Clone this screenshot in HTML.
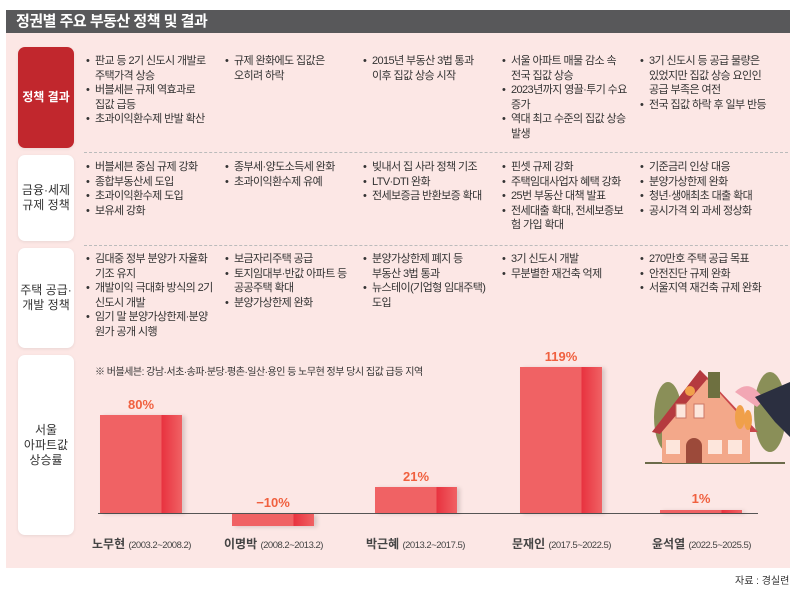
<!DOCTYPE html>
<html><head><meta charset="utf-8"><style>
*{margin:0;padding:0;box-sizing:border-box}
body{width:800px;height:590px;background:#fff;font-family:"Liberation Sans","Noto Sans CJK KR",sans-serif;position:relative;overflow:hidden;color:#333}
.title{position:absolute;left:6px;top:10px;width:784px;height:23px;background:#58585a;color:#fff;font-size:15px;font-weight:bold;padding-left:10px;line-height:23px;letter-spacing:-0.5px}
.panel{position:absolute;left:6px;top:33px;width:784px;height:535px;background:#fce7e5}
.lab{position:absolute;left:18px;width:56px;background:#fff;border-radius:7px;display:flex;align-items:center;justify-content:center;text-align:center;font-size:12px;line-height:15px;color:#333;box-shadow:0 1px 3px rgba(0,0,0,.08)}
.lab.red{background:#c1272d;color:#fff;font-weight:bold}
.dash{position:absolute;left:84px;width:704px;border-top:1px dashed #bbb}
.col{position:absolute;font-size:11px;line-height:14.5px;letter-spacing:-0.6px;color:#333;width:130px;word-break:keep-all}
.col div{padding-left:9px;text-indent:-9px}
.col div::before{content:"•";display:inline-block;width:9px;text-indent:0}
.col div.ba{word-break:break-all}
.bar{position:absolute;background:linear-gradient(to right,#f06264 0,#f06264 75%,#e8323f 75%,#f06264 100%);box-shadow:3px 1px 4px rgba(0,0,0,.15)}
.pct{position:absolute;width:82px;text-align:center;color:#f0603f;font-size:13px;font-weight:bold}
.xl{position:absolute;font-size:12px;font-weight:bold;color:#444;white-space:nowrap}
.xl span{font-size:9.5px;font-weight:normal;letter-spacing:-0.5px}
</style></head><body>
<div class="title">정권별 주요 부동산 정책 및 결과</div>
<div class="panel"></div>
<div class="lab red" style="top:47px;height:101px">정책 결과</div>
<div class="lab" style="top:155px;height:86px">금융·세제<br>규제 정책</div>
<div class="lab" style="top:248px;height:100px">주택 공급·<br>개발 정책</div>
<div class="lab" style="top:355px;height:180px">서울<br>아파트값<br>상승률</div>
<div class="dash" style="top:152px"></div>
<div class="dash" style="top:245px"></div>

<div class="col" style="left:86px;top:54px"><div>판교 등 2기 신도시 개발로 주택가격 상승</div><div>버블세븐 규제 역효과로 집값 급등</div><div>초과이익환수제 반발 확산</div></div>
<div class="col" style="left:225px;top:54px"><div>규제 완화에도 집값은 오히려 하락</div></div>
<div class="col" style="left:363px;top:54px"><div>2015년 부동산 3법 통과 이후 집값 상승 시작</div></div>
<div class="col" style="left:502px;top:54px"><div>서울 아파트 매물 감소 속 전국 집값 상승</div><div>2023년까지 영끌·투기 수요 증가</div><div>역대 최고 수준의 집값 상승 발생</div></div>
<div class="col" style="left:640px;top:54px"><div>3기 신도시 등 공급 물량은 있었지만 집값 상승 요인인 공급 부족은 여전</div><div>전국 집값 하락 후 일부 반등</div></div>

<div class="col" style="left:86px;top:160px;width:140px"><div>버블세븐 중심 규제 강화</div><div>종합부동산세 도입</div><div>초과이익환수제 도입</div><div>보유세 강화</div></div>
<div class="col" style="left:225px;top:160px;width:140px"><div>종부세·양도소득세 완화</div><div>초과이익환수제 유예</div></div>
<div class="col" style="left:363px;top:160px;width:140px"><div>빚내서 집 사라 정책 기조</div><div>LTV·DTI 완화</div><div>전세보증금 반환보증 확대</div></div>
<div class="col" style="left:502px;top:160px"><div>핀셋 규제 강화</div><div>주택임대사업자 혜택 강화</div><div>25번 부동산 대책 발표</div><div class="ba">전세대출 확대, 전세보증보험 가입 확대</div></div>
<div class="col" style="left:640px;top:160px;width:145px"><div>기준금리 인상 대응</div><div>분양가상한제 완화</div><div>청년·생애최초 대출 확대</div><div>공시가격 외 과세 정상화</div></div>

<div class="col" style="left:86px;top:252px"><div>김대중 정부 분양가 자율화 기조 유지</div><div>개발이익 극대화 방식의 2기 신도시 개발</div><div class="ba">임기 말 분양가상한제·분양원가 공개 시행</div></div>
<div class="col" style="left:225px;top:252px"><div>보금자리주택 공급</div><div>토지임대부·반값 아파트 등 공공주택 확대</div><div>분양가상한제 완화</div></div>
<div class="col" style="left:363px;top:252px"><div>분양가상한제 폐지 등 부동산 3법 통과</div><div>뉴스테이(기업형 임대주택) 도입</div></div>
<div class="col" style="left:502px;top:252px"><div>3기 신도시 개발</div><div>무분별한 재건축 억제</div></div>
<div class="col" style="left:640px;top:252px;width:145px"><div>270만호 주택 공급 목표</div><div>안전진단 규제 완화</div><div>서울지역 재건축 규제 완화</div></div>

<div style="position:absolute;left:95px;top:363px;font-size:10px;letter-spacing:-0.5px;color:#333">※ 버블세븐: 강남·서초·송파·분당·평촌·일산·용인 등 노무현 정부 당시 집값 급등 지역</div>

<svg style="position:absolute;left:640px;top:362px" width="150" height="110" viewBox="0 0 150 110">
<ellipse cx="28" cy="55" rx="14" ry="35" fill="#8a8f58"/><ellipse cx="130" cy="50" rx="16" ry="40" fill="#8a8f58"/>
<rect x="5" y="100" width="140" height="2" fill="#6b6b4a"/>
<polygon points="12,70 60,8 118,70" fill="#c9474b"/>
<rect x="22" y="60" width="88" height="41" fill="#f3a88a"/>
<polygon points="22,65 65,15 110,65" fill="#f3a88a"/>
<polygon points="12,70 60,8 68,16 20,72" fill="#b53a3f"/>
<rect x="68" y="10" width="12" height="26" fill="#6e7040"/>
<rect x="36" y="42" width="10" height="14" fill="#fde6dc" stroke="#c76" /><rect x="54" y="42" width="10" height="14" fill="#fde6dc" stroke="#c76"/>
<rect x="26" y="78" width="14" height="14" fill="#fde6dc"/><rect x="68" y="78" width="14" height="14" fill="#fde6dc"/><rect x="88" y="78" width="14" height="14" fill="#fde6dc"/>
<path d="M46 101 V84 a8 8 0 0 1 16 0 V101z" fill="#9c4a3a"/>
<circle cx="50" cy="29" r="5" fill="#f0a04a"/>
<path d="M95 30 q10 -10 20 -3 l10 10 l-8 8 z" fill="#f2a7b4"/>
<polygon points="115,35 150,20 150,75 135,60" fill="#2b2f40"/>
<ellipse cx="100" cy="55" rx="5" ry="12" fill="#f0a04a"/><ellipse cx="108" cy="58" rx="4" ry="10" fill="#f0a04a"/>
</svg>

<div style="position:absolute;left:98px;top:513px;width:660px;height:1px;background:#555"></div>
<div class="bar" style="left:100px;top:415px;width:82px;height:98px"></div>
<div class="pct" style="left:100px;top:397px">80%</div>
<div class="bar" style="left:232px;top:514px;width:82px;height:12px"></div>
<div class="pct" style="left:232px;top:495px">−10%</div>
<div class="bar" style="left:375px;top:487px;width:82px;height:26px"></div>
<div class="pct" style="left:375px;top:469px">21%</div>
<div class="bar" style="left:520px;top:367px;width:82px;height:146px"></div>
<div class="pct" style="left:520px;top:349px">119%</div>
<div class="bar" style="left:660px;top:510px;width:82px;height:3px"></div>
<div class="pct" style="left:660px;top:491px">1%</div>

<div class="xl" style="left:92px;top:535px">노무현 <span>(2003.2~2008.2)</span></div>
<div class="xl" style="left:224px;top:535px">이명박 <span>(2008.2~2013.2)</span></div>
<div class="xl" style="left:366px;top:535px">박근혜 <span>(2013.2~2017.5)</span></div>
<div class="xl" style="left:512px;top:535px">문재인 <span>(2017.5~2022.5)</span></div>
<div class="xl" style="left:652px;top:535px">윤석열 <span>(2022.5~2025.5)</span></div>

<div style="position:absolute;left:735px;top:572px;font-size:10px;color:#333">자료 : 경실련</div>
</body></html>
